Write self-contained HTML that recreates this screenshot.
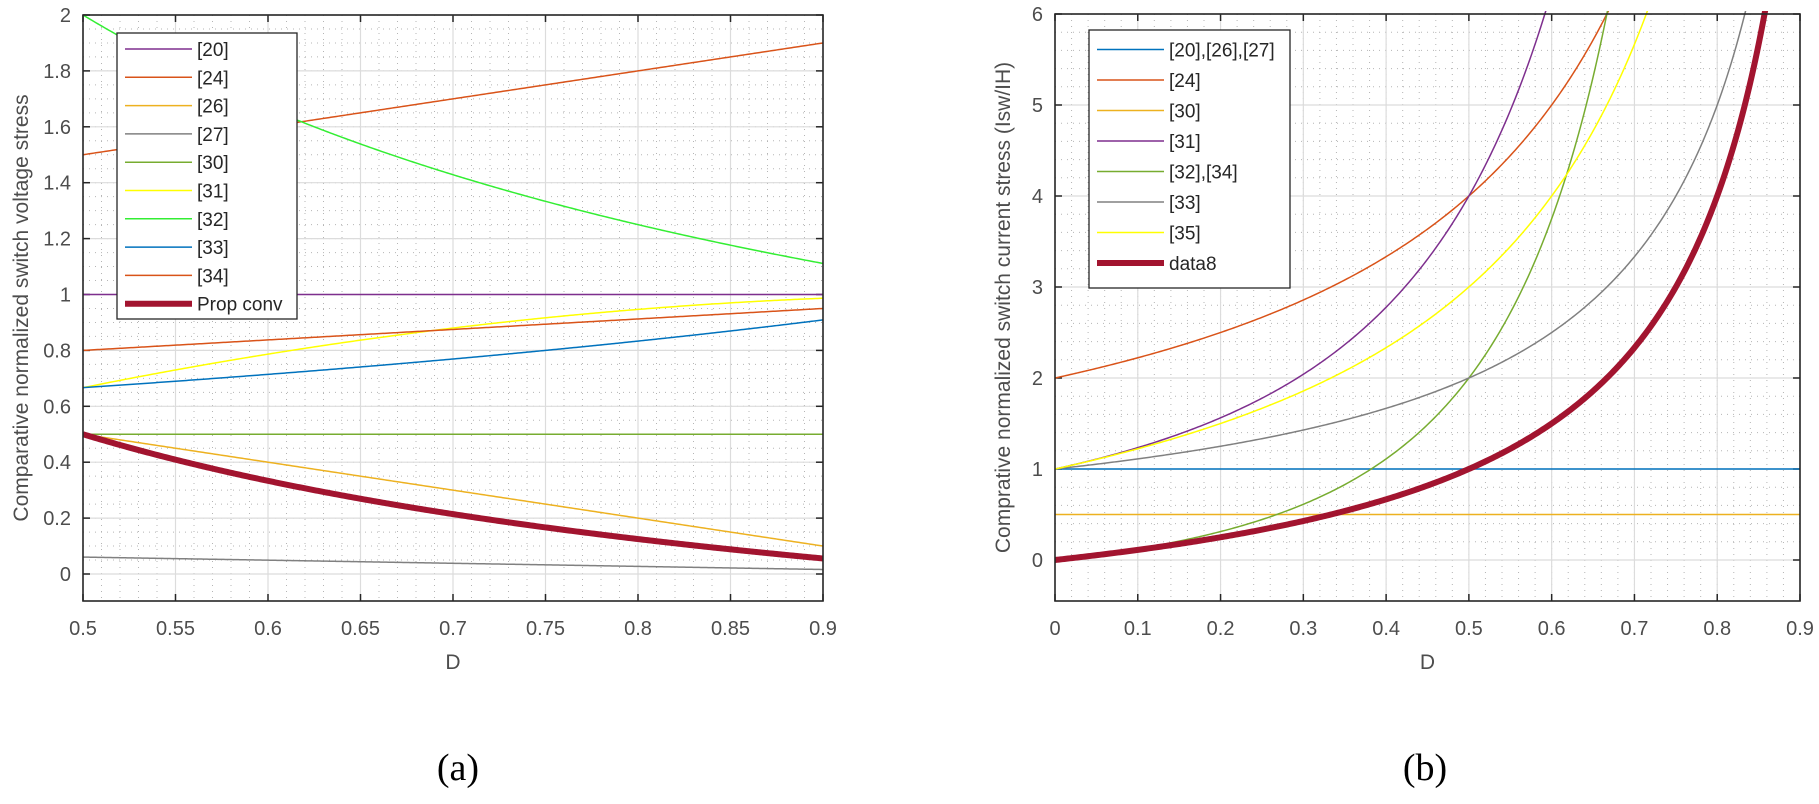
<!DOCTYPE html>
<html><head><meta charset="utf-8"><style>
html,body{margin:0;padding:0;background:#fff;}
svg{display:block;font-family:"Liberation Sans",sans-serif;}
</style></head><body>
<svg id="s" width="1819" height="804" viewBox="0 0 1819 804" xmlns="http://www.w3.org/2000/svg">
<rect width="1819" height="804" fill="#fff"/>
<g id="g"></g>
<text x="458" y="780" font-family="Liberation Serif,serif" font-size="38" text-anchor="middle" fill="#000">(a)</text>
<text x="1425" y="780" font-family="Liberation Serif,serif" font-size="38" text-anchor="middle" fill="#000">(b)</text>
</svg>
<script>
var NS="http://www.w3.org/2000/svg",G=document.getElementById('g');
function el(t,a,txt){var e=document.createElementNS(NS,t);for(var k in a)e.setAttribute(k,a[k]);if(txt!=null)e.textContent=txt;G.appendChild(e);return e;}
function plot(o){
 var X=function(v){return o.x0+(v-o.xmin)/(o.xmax-o.xmin)*(o.x1-o.x0)};
 var Y=function(v){return o.y0-(v-o.ymin)/(o.ymax-o.ymin)*(o.y0-o.y1)};
 // minor grid
 for(var v=o.xmin;v<=o.xmax+1e-9;v+=o.xmn){el('line',{x1:X(v),x2:X(v),y1:o.y1,y2:o.yb,stroke:'#b5b5b5','stroke-width':1,'stroke-dasharray':'1,5'});}
 for(var v=o.ymin;v<=o.ymax+1e-9;v+=o.ymn){el('line',{x1:o.x0,x2:o.x1,y1:Y(v),y2:Y(v),stroke:'#b5b5b5','stroke-width':1,'stroke-dasharray':'1,5'});}
 o.xt.forEach(function(v){el('line',{x1:X(v),x2:X(v),y1:o.y1,y2:o.yb,stroke:'#dcdcdc','stroke-width':1.2});
   el('line',{x1:X(v),x2:X(v),y1:o.yb,y2:o.yb-7,stroke:'#262626','stroke-width':1.5});
   el('line',{x1:X(v),x2:X(v),y1:o.y1,y2:o.y1+7,stroke:'#262626','stroke-width':1.5});
   el('text',{x:X(v),y:o.yb+34,'font-size':20,fill:'#4d4d4d','text-anchor':'middle'},o.xf(v));});
 o.yt.forEach(function(v){el('line',{x1:o.x0,x2:o.x1,y1:Y(v),y2:Y(v),stroke:'#dcdcdc','stroke-width':1.2});
   el('line',{x1:o.x0,x2:o.x0+7,y1:Y(v),y2:Y(v),stroke:'#262626','stroke-width':1.5});
   el('line',{x1:o.x1,x2:o.x1-7,y1:Y(v),y2:Y(v),stroke:'#262626','stroke-width':1.5});
   el('text',{x:o.x0-12,y:Y(v)+7,'font-size':20,fill:'#4d4d4d','text-anchor':'end'},String(v));});
 el('text',{x:(o.x0+o.x1)/2,y:o.yb+68,'font-size':21,fill:'#4d4d4d','text-anchor':'middle'},'D');
 el('text',{x:0,y:0,'font-size':21,fill:'#4d4d4d','text-anchor':'middle',transform:'translate('+o.tx+','+((o.y1+o.yb)/2)+') rotate(-90)'},o.title);
 var cid='c'+o.x0;var cp=el('clipPath',{id:cid});var r=document.createElementNS(NS,'rect');r.setAttribute('x',o.x0);r.setAttribute('y',o.y1-3);r.setAttribute('width',o.x1-o.x0);r.setAttribute('height',o.yb-o.y1+3);cp.appendChild(r);
 o.series.forEach(function(s){var d='';for(var i=0;i<=400;i++){var xv=o.xmin+(o.xmax-o.xmin)*i/400;var yv=s.f(xv);if(yv>o.ymax+1)yv=o.ymax+1;d+=(i?'L':'M')+X(xv).toFixed(2)+','+Y(yv).toFixed(2);}
   el('path',{d:d,fill:'none',stroke:s.c,'stroke-width':s.w||1.5,'clip-path':'url(#'+cid+')'});});
 el('rect',{x:o.x0,y:o.y1,width:o.x1-o.x0,height:o.yb-o.y1,fill:'none',stroke:'#262626','stroke-width':1.6});
 var L=o.leg;el('rect',{x:L.x,y:L.y,width:L.w,height:L.h,fill:'#fff',stroke:'#262626','stroke-width':1.3});
 o.series.forEach(function(s,i){var yy=L.r0+i*L.dr;el('line',{x1:L.x+8,x2:L.x+75,y1:yy,y2:yy,stroke:s.c,'stroke-width':s.w||1.5});
   el('text',{x:L.x+80,y:yy+7,'font-size':19,fill:'#262626'},s.n);});
}
var pu='#7e2f8e',or='#d95319',ye='#edb120',gr='#77ac30',bl='#0072bd',gy='#808080',yl='#ffff00',lg='#33ee33',dr='#a2142f';
plot({x0:83,x1:823,y1:15,y0:574,yb:601,xmin:0.5,xmax:0.9,ymin:0,ymax:2,xmn:0.01,ymn:0.05,
 xt:[0.5,0.55,0.6,0.65,0.7,0.75,0.8,0.85,0.9],yt:[0,0.2,0.4,0.6,0.8,1,1.2,1.4,1.6,1.8,2],
 xf:function(v){return String(Math.round(v*100)/100)},tx:28,title:'Comparative normalized switch voltage stress',
 leg:{x:117,y:33,w:180,h:286,r0:49,dr:28.3},
 series:[{n:'[20]',c:pu,f:function(D){return 1}},{n:'[24]',c:or,f:function(D){return 1+D}},
 {n:'[26]',c:ye,f:function(D){return 1-D}},{n:'[27]',c:gy,f:function(D){return (1-D)/9+0.005}},
 {n:'[30]',c:gr,f:function(D){return 0.5}},{n:'[31]',c:yl,f:function(D){return 1-(1-D)*(1-D)*4/3}},
 {n:'[32]',c:lg,f:function(D){return 1/D}},{n:'[33]',c:bl,f:function(D){return 1/(2-D)}},
 {n:'[34]',c:or,f:function(D){return 0.8+(D-0.5)*0.375}},{n:'Prop conv',c:dr,w:6,f:function(D){return (1-D)/(2*D)}}]});
plot({x0:1055,x1:1800,y1:14,y0:560,yb:601,xmin:0,xmax:0.9,ymin:0,ymax:6,xmn:0.02,ymn:0.2,
 xt:[0,0.1,0.2,0.3,0.4,0.5,0.6,0.7,0.8,0.9],yt:[0,1,2,3,4,5,6],
 xf:function(v){return String(Math.round(v*10)/10)},tx:1010,title:'Comprative normalized switch current stress (Isw/IH)',
 leg:{x:1089,y:30,w:201,h:258,r0:49.5,dr:30.5},
 series:[{n:'[20],[26],[27]',c:bl,f:function(D){return 1}},{n:'[24]',c:or,f:function(D){return 2/(1-D)}},
 {n:'[30]',c:ye,f:function(D){return 0.5}},{n:'[31]',c:pu,f:function(D){return 1/((1-D)*(1-D))}},
 {n:'[32],[34]',c:gr,f:function(D){return D/((1-D)*(1-D))}},{n:'[33]',c:gy,f:function(D){return 1/(1-D)}},
 {n:'[35]',c:yl,f:function(D){return (1+D)/(1-D)}},{n:'data8',c:dr,w:6,f:function(D){return D/(1-D)}}]});
</script>
</body></html>
